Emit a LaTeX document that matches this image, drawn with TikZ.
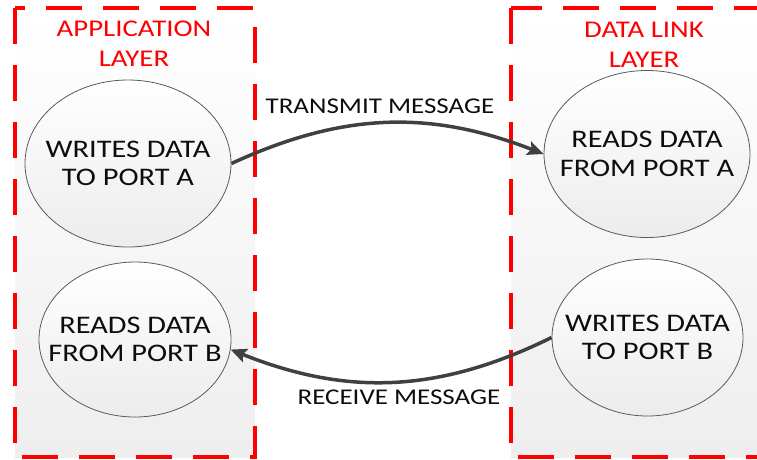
\documentclass[tikz,border=0pt]{standalone}
\usepackage{fontspec}
\setmainfont{Carlito}[FakeStretch=1.2]
\usetikzlibrary{shapes.geometric,arrows.meta}

\definecolor{layerred}{HTML}{FF0000}
\definecolor{arrowgray}{HTML}{404040}
\definecolor{rimgray}{HTML}{5A5A5A}
\definecolor{inkblack}{HTML}{0D0D0D}
\definecolor{boxgray}{HTML}{EEEEEE}
\definecolor{ellgray}{HTML}{ECECEC}

\tikzset{
  layerbox/.style={draw=layerred, line width=3.8pt, dash pattern=on 36pt off 21pt,
    top color=white, bottom color=boxgray},
  port/.style={ellipse, draw=rimgray, line width=0.8pt, top color=white,
    bottom color=ellgray, minimum width=206pt, minimum height=167pt, inner sep=0pt},
  porttext/.style={font=\fontsize{25.3}{28.7}\selectfont, align=center, text=inkblack},
  layertitle/.style={font=\fontsize{24}{30}\selectfont, align=center, text=layerred},
  msglabel/.style={font=\fontsize{22.5}{27}\selectfont, text=inkblack},
  msg/.style={draw=arrowgray, line width=3.5pt,
    -{Stealth[length=16pt,width=14pt,inset=3pt]}},
}

\begin{document}
\begin{tikzpicture}[x=1pt, y=-1pt]
  \useasboundingbox (0,0) rectangle (757,459);

  % layer frames
  \path[layerbox] (15,8) rectangle (255,457);
  \path[layerbox] (511,8) rectangle (790,457);

  \node[layertitle] (apptitle) at (134,44) {APPLICATION\\LAYER};
  \node[layertitle] (linktitle) at (644,44.5) {DATA LINK\\LAYER};

  % ports
  \node[port] (wa) at (128,163.5) {};
  \node[porttext] (wa-text) at (wa) {WRITES DATA\\TO PORT A};
  \node[port] (ra) at (647,154) {};
  \node[porttext] (ra-text) at (ra) {READS DATA\\FROM PORT A};
  \node[port, minimum width=192pt, minimum height=155pt] (rb) at (135,339.5) {};
  \node[porttext] (rb-text) at (rb) {READS DATA\\FROM PORT B};
  \node[port, minimum width=191pt, minimum height=157pt] (wb) at (647.5,337.5) {};
  \node[porttext] (wb-text) at (wb) {WRITES DATA\\TO PORT B};

  % messages
  \draw[msg] (wa.east) to[bend left=23] (ra.west);
  \draw[msg] (wb.west) to[bend left=24] (rb.-6);

  \node[msglabel] (tx) at (380,106.5) {TRANSMIT MESSAGE};
  \node[msglabel] (rx) at (399,397.5) {RECEIVE MESSAGE};
\end{tikzpicture}
\end{document}
